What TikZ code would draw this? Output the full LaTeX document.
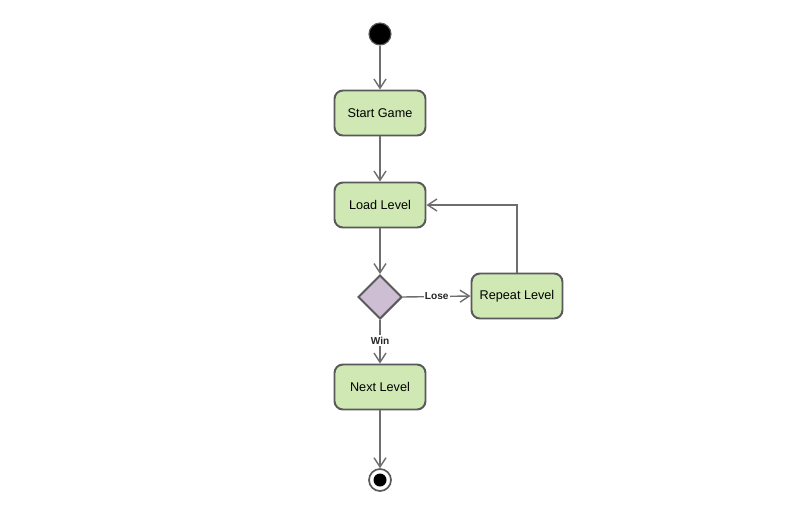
\documentclass[tikz,border=0pt]{standalone}
\usepackage{fontspec}
\setmainfont{Liberation Sans}
\usetikzlibrary{arrows.meta,shapes.geometric}
\definecolor{ColFill}{RGB}{207,232,180}
\definecolor{ColDec}{RGB}{205,190,212}
\definecolor{ColLine}{RGB}{90,90,90}
\definecolor{ColArc}{RGB}{110,110,110}
\tikzstyle{ActGraph}=[rectangle,rounded corners=6pt,draw=ColLine,fill=ColFill,line width=1.4pt,
minimum width=91*0.025cm,minimum height=45*0.025cm,font=\fontsize{9}{10}\selectfont]
\tikzstyle{DecGraph}=[diamond,draw=ColLine,fill=ColDec,line width=1.4pt,inner sep=0pt,
minimum width=44*0.025cm,minimum height=44*0.025cm]
\tikzstyle{StartGraph}=[circle,draw=ColLine,fill=black,line width=0.8pt,inner sep=0pt,minimum size=22*0.025cm]
\tikzstyle{LabelGraph}=[fill=white,inner sep=1pt,font=\bfseries\fontsize{7.2}{8}\selectfont,text=black!85]
\tikzstyle{ArcGraph}=[ColArc,line width=1pt,-{Straight Barb[length=2.3mm,width=3mm,line width=1pt]}]

\begin{document}
\begin{tikzpicture}[x=0.025cm,y=-0.025cm]
        \useasboundingbox[fill=white](0,0)rectangle(800,514);
        \node[StartGraph](start)at(380,34){};
        \node[ActGraph](game)at(380,113){Start Game};
        \node[ActGraph](load)at(380,205){Load Level};
        \node[DecGraph](dec)at(380,297){};
        \node[ActGraph](rep)at(517,296){Repeat Level};
        \node[ActGraph](next)at(380,387){Next Level};
        \node[circle,draw=ColLine,fill=white,line width=1.2pt,inner sep=0pt,minimum size=22*0.025cm](final)at(380,480){};
        \node[circle,fill=black,inner sep=0pt,minimum size=13*0.025cm](finalin)at(final){};
        \draw[ArcGraph](start)--(game);
        \draw[ArcGraph](game)--(load);
        \draw[ArcGraph](load)--(dec);
        \draw[ArcGraph](dec.east)--node[LabelGraph,pos=0.5]{Lose}(rep.west);
        \draw[ArcGraph](dec.south)--node[LabelGraph,pos=0.47]{Win}(next.north);
        \draw[ArcGraph](rep.north)|-(load.east);
        \draw[ArcGraph](next)--(final);
    \end{tikzpicture}
\end{document}
